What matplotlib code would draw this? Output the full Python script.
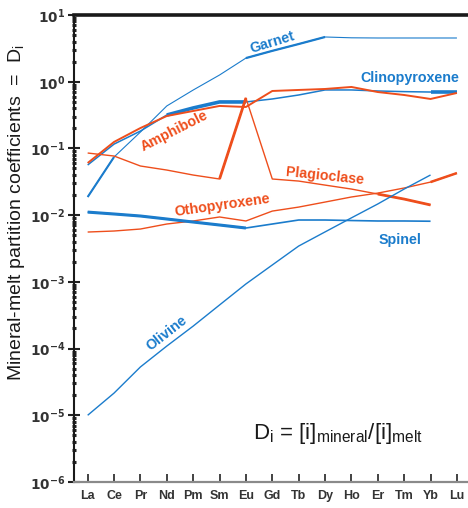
import matplotlib.pyplot as plt
import numpy as np
from matplotlib.ticker import LogLocator, FixedLocator, NullFormatter

plt.rcParams['font.family'] = ['Liberation Sans', 'DejaVu Sans']

# Data
elements = ["La", "Ce", "Pr", "Nd", "Pm", "Sm", "Eu", "Gd", "Tb", "Dy", "Ho", "Er", "Tm", "Yb", "Lu"]

garnet = [0.0187, 0.0743, 0.176, 0.433, 0.75, 1.26, 2.26, 2.9, 3.67, 4.68, 4.55, 4.52, 4.52, 4.52, 4.52]
clinopyroxene = [0.0564, 0.116, 0.182, 0.317, 0.404, 0.497, 0.497, 0.551, 0.632, 0.752, 0.752, 0.726, 0.71, 0.70, 0.70]
amphibole = [0.0604, 0.125, 0.202, 0.306, 0.364, 0.433, 0.418, 0.726, 0.752, 0.778, 0.834, 0.70, 0.632, 0.551, 0.678]
plagioclase = [0.0853, 0.0769, 0.0545, 0.0474, 0.0399, 0.0348, 0.570, 0.0348, 0.0324, 0.0282, 0.0246, 0.0207, 0.0174, 0.0142]
othopyroxene = [0.00558, 0.00578, 0.00619, 0.00736, 0.00817, 0.00938, 0.00817, 0.0115, 0.0132, 0.0157, 0.0187, 0.0214, 0.0255, 0.0313, 0.0427]
spinel = [0.0111, 0.0104, 0.0097, 0.00875, 0.00788, 0.00711, 0.00641, 0.00736, 0.00845, 0.00845, 0.0083, 0.00817, 0.00817, 0.0081]
olivine = [1.0e-5, 2.15e-5, 5.3e-5, 1.09e-4, 2.17e-4, 4.5e-4, 9.3e-4, 1.79e-3, 3.44e-3, 5.6e-3, 9.1e-3, 1.47e-2, 2.46e-2, 0.040]

blue = "#1b7ccc"
red = "#ee4e1c"

# (values, colour, base width, [(start, end, width) heavier segments])
series = [
    (garnet, blue, 0.8, [(0, 1, 1.5), (6, 9, 1.6)]),
    (clinopyroxene, blue, 1.1, [(3, 6, 2.6), (13, 14, 2.6)]),
    (amphibole, red, 1.4, []),
    (plagioclase, red, 1.0, [(5, 6, 2.0), (11, 13, 2.0)]),
    (othopyroxene, red, 1.0, [(13, 14, 1.8)]),
    (spinel, blue, 1.2, [(0, 6, 2.2)]),
    (olivine, blue, 1.0, []),
]

fig = plt.figure(figsize=(4.68, 5.08), dpi=100)
ax = fig.add_axes([0.158, 0.0512, 0.842, 0.9193])

for vals, col, lw, heavy in series:
    x = np.arange(len(vals))
    ax.plot(x, vals, color=col, linewidth=lw, solid_capstyle="butt", zorder=3)
    for s, e, w in heavy:
        ax.plot(x[s:e + 1], vals[s:e + 1], color=col, linewidth=w, solid_capstyle="butt", zorder=3)

ax.set_yscale("log")
ax.set_ylim(1e-6, 1e1)
ax.set_xlim(-0.52, 14.42)

# Ticks
ax.set_xticks(np.arange(len(elements)))
ax.set_xticklabels(elements, fontsize=9, fontweight="bold", color="#333333")
ax.tick_params(axis="x", direction="in", length=6, width=1.2, color="#222222", pad=6)

ax.yaxis.set_major_locator(FixedLocator([10.0 ** k for k in range(-6, 2)]))
ax.set_yticklabels([r"$\mathbf{10^{%d}}$" % k for k in range(-6, 2)], fontsize=9.8, color="#333333")
ax.yaxis.set_minor_locator(LogLocator(base=10, subs=np.arange(2, 10)))
ax.yaxis.set_minor_formatter(NullFormatter())
ax.tick_params(axis="y", which="major", direction="inout", length=9, width=1.5, color="#222222", pad=2)
ax.tick_params(axis="y", which="minor", direction="inout", length=3, width=2.2, color="#222222")

# Spines
ax.spines["right"].set_visible(False)
ax.spines["top"].set_linewidth(2.6)
ax.spines["top"].set_color("#1a1a1a")
ax.spines["left"].set_linewidth(1.5)
ax.spines["left"].set_color("#1a1a1a")
ax.spines["bottom"].set_linewidth(1.6)
ax.spines["bottom"].set_color("#8a8a8a")

fig.text(17 / 468, 1 - 213 / 508, r"Mineral-melt partition coefficients  =  D$_\mathregular{i}$",
         fontsize=14, rotation=90, ha="center", va="center", color="#1a1a1a")

# Series labels
lab = dict(fontsize=10.3, fontweight="bold", ha="center", va="center", zorder=4)
ax.text(7.0, 3.9, "Garnet", color=blue, rotation=17, **lab)
ax.text(12.2, 1.13, "Clinopyroxene", color=blue, **lab)
ax.text(3.3, 0.18, "Amphibole", color=red, rotation=27, **lab)
ax.text(9.0, 0.039, "Plagioclase", color=red, rotation=-6, **lab)
ax.text(5.1, 0.0142, "Othopyroxene", color=red, rotation=8, **lab)
ax.text(11.85, 0.0042, "Spinel", color=blue, **lab)
ax.text(3.0, 1.7e-4, "Olivine", color=blue, rotation=38, **lab)

ax.text(6.25, 5.4e-6, r"D$_\mathregular{i}$ = [i]$_\mathregular{mineral}$/[i]$_\mathregular{melt}$",
        fontsize=16, ha="left", va="center", color="#1a1a1a")

plt.savefig("out.png", dpi=100)
